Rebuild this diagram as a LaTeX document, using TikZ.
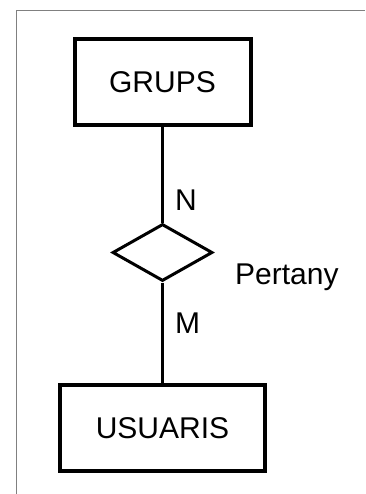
\documentclass[tikz,border=0pt]{standalone}
\usepackage{fontspec}
\setmainfont{Liberation Sans}
\usetikzlibrary{shapes.geometric}
\definecolor{framegray}{RGB}{128,128,128}
\begin{document}
\begin{tikzpicture}[x=1pt,y=-1pt,
  entity/.style={draw,line width=4pt,rectangle,inner sep=0pt,font=\fontsize{30}{36}\selectfont},
  relation/.style={draw,line width=3pt,diamond,inner sep=0pt,minimum width=100pt,minimum height=57pt},
  link/.style={line width=3.5pt},
  lbl/.style={font=\fontsize{30}{36}\selectfont,inner sep=0pt,anchor=base west}]
\useasboundingbox (0,0) rectangle (365,494);
\draw[framegray,line width=1pt] (16,494) -- (16,11) -- (365,11);
\node[entity,minimum width=176pt,minimum height=86pt] (grups) at (162.5,82.5) {GRUPS};
\node[relation] (rel) at (162.5,252.5) {};
\node[entity,minimum width=205pt,minimum height=86pt] (usuaris) at (162.5,428) {USUARIS};
\draw[link] (grups.south) -- (rel.north);
\draw[link] (rel.south) -- (usuaris.north);
\node[lbl] (n) at (175,210) {N};
\node[lbl] (m) at (175,333) {M};
\node[lbl] (pertany) at (235,284) {Pertany};
\end{tikzpicture}
\end{document}
